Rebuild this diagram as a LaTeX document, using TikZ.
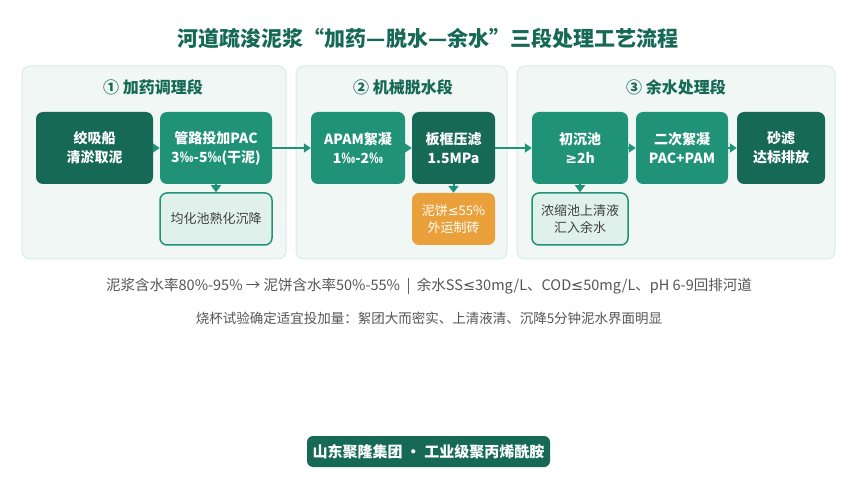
\documentclass[tikz,border=0pt]{standalone}
\usepackage{fontspec}
\setmainfont{Noto Sans CJK SC}
\newfontfamily\symf{DejaVu Sans}
\usetikzlibrary{arrows.meta}
\definecolor{darkG}{RGB}{22,106,85}
\definecolor{midG}{RGB}{31,146,119}
\definecolor{lightG}{RGB}{224,241,235}
\definecolor{panelF}{RGB}{240,247,244}
\definecolor{panelD}{RGB}{214,236,228}
\definecolor{cakeO}{RGB}{234,161,59}
\definecolor{noteT}{RGB}{85,85,85}
\newcommand{\lesym}{{\symf ≤}}
\newcommand{\gesym}{{\symf ≥}}
\begin{document}
\begin{tikzpicture}[x=1pt,y=-1pt,
  panel/.style={draw=panelD,fill=panelF,line width=1pt,rounded corners=8pt},
  ptitle/.style={text=darkG,font=\bfseries\fontsize{16}{18}\selectfont},
  stage/.style={rounded corners=7pt,minimum height=72pt,inner sep=0pt,align=center,text=white,font=\bfseries\fontsize{14}{19}\selectfont},
  stageD/.style={stage,fill=darkG},
  stageM/.style={stage,fill=midG},
  side/.style={rounded corners=7pt,minimum height=52pt,inner sep=0pt,align=center,font=\fontsize{13}{17}\selectfont},
  sideL/.style={side,fill=lightG,draw=midG,line width=1.5pt,text=black!75},
  sideO/.style={side,fill=cakeO,text=white},
  flow/.style={draw=midG,line width=2pt,-{Triangle[length=7pt,width=9pt]}},
  drop/.style={draw=midG,line width=2pt,-{Triangle[length=7pt,width=10pt]}}]
\useasboundingbox[fill=white] (0,0) rectangle (857,497);
\def\ya{148};
\def\yb{219};

\node[text=darkG,font=\bfseries\fontsize{21}{24}\selectfont] (title) at (428,38) {河道疏浚泥浆“加药—脱水—余水”三段处理工艺流程};

\draw[panel] (22,66) rectangle (286,259);
\draw[panel] (296,66) rectangle (507,259);
\draw[panel] (517,66) rectangle (835,259);

\node[ptitle] (t1) at (153,87) {① 加药调理段};
\node[ptitle] (t2) at (403,87) {② 机械脱水段};
\node[ptitle] (t3) at (676,87) {③ 余水处理段};

\node[stageD,minimum width=117pt] (dredge) at (94.5,\ya) {绞吸船\\清淤取泥};
\node[stageM,minimum width=112pt] (pac) at (216,\ya) {管路投加PAC\\3‰-5‰(干泥)};
\node[sideL,minimum width=112pt] (homog) at (216,\yb) {均化池熟化沉降};

\node[stageM,minimum width=94pt] (apam) at (358,\ya) {APAM絮凝\\1‰-2‰};
\node[stageD,minimum width=83pt] (press) at (453.5,\ya) {板框压滤\\1.5MPa};
\node[sideO,minimum width=83pt] (cake) at (453.5,\yb) {泥饼\lesym55\%\\外运制砖};

\node[stageM,minimum width=96pt] (settle) at (580,\ya) {初沉池\\\gesym2h};
\node[stageM,minimum width=92pt] (floc) at (682,\ya) {二次絮凝\\PAC+PAM};
\node[stageD,minimum width=88pt] (sand) at (781,\ya) {砂滤\\达标排放};
\node[sideL,minimum width=96pt] (thick) at (580,\yb) {浓缩池上清液\\汇入余水};

\draw[flow] (dredge) -- (pac);
\draw[flow] (pac) -- (apam);
\draw[flow] (apam) -- (press);
\draw[flow] (press) -- (settle);
\draw[flow] (settle) -- (floc);
\draw[flow] (floc) -- (sand);
\draw[drop] (pac) -- (homog);
\draw[drop] (press) -- (cake);
\draw[drop] (settle) -- (thick);

\node[text=noteT,font=\fontsize{14.5}{16}\selectfont] (note1) at (429,286) {泥浆含水率80\%-95\% → 泥饼含水率50\%-55\% \ | \ 余水SS\lesym30mg/L、COD\lesym50mg/L、pH 6-9回排河道};
\node[text=noteT,font=\fontsize{13.5}{15}\selectfont] (note2) at (429,318) {烧杯试验确定适宜投加量：絮团大而密实、上清液清、沉降5分钟泥水界面明显};

\node[fill=darkG,rounded corners=6pt,minimum width=243pt,minimum height=31pt,text=white,font=\bfseries\fontsize{15}{17}\selectfont] (brand) at (428.5,451.5) {山东聚隆集团 · 工业级聚丙烯酰胺};
\end{tikzpicture}
\end{document}
